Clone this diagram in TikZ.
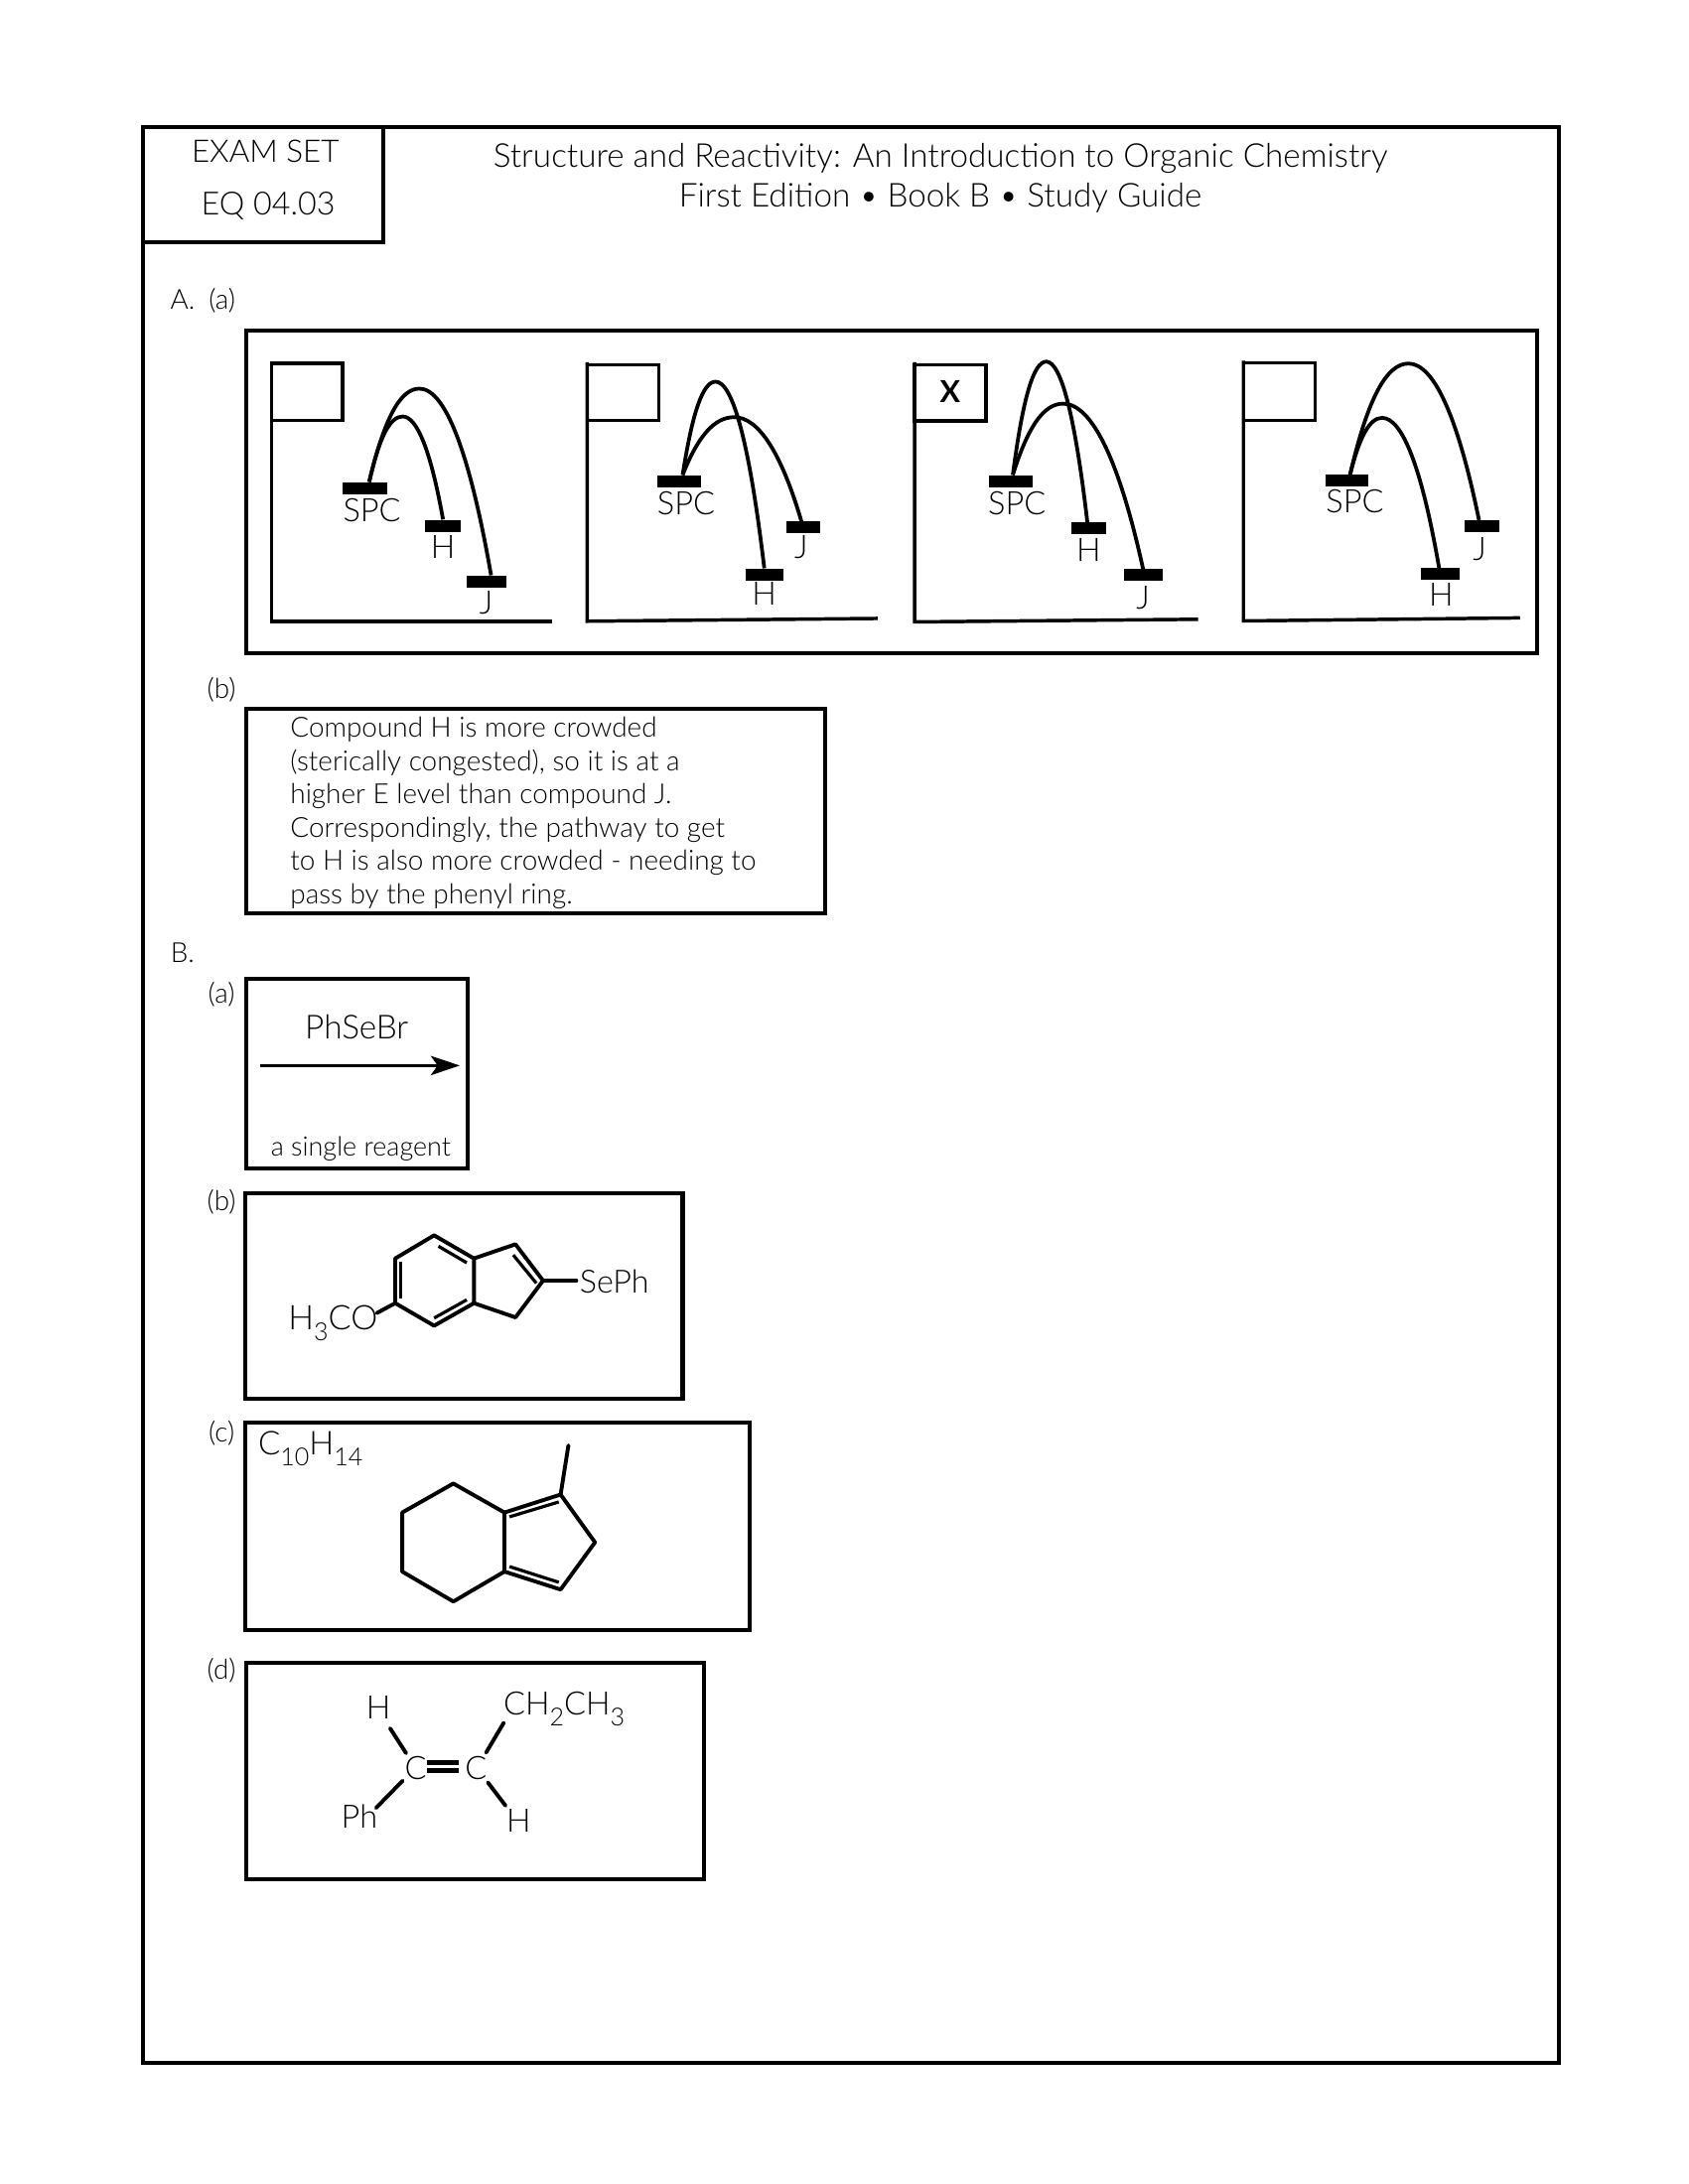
\documentclass[tikz,border=0pt]{standalone}
\usepackage{fontspec}
\setmainfont{Lato}[UprightFont=* Light,BoldFont=* Bold]
\usetikzlibrary{calc,arrows.meta}
\newcommand\fsz[1]{\fontsize{#1}{#1}\selectfont}
\newcommand\sbs[2][9]{\raisebox{-0.65ex}{\fsz{#1}#2}}
% hump curve: start, peak, end (named coordinates)
\newcommand\hump[3]{\draw[curve] let \p1=(#1),\p2=(#2),\p3=(#3) in
  (#1) .. controls ({\x1+.30*(\x2-\x1)},{\y1+.68*(\y2-\y1)}) and ({\x2-.38*(\x2-\x1)},\y2) .. (#2)
  .. controls ({\x2+.36*(\x3-\x2)},\y2) and ({\x3-.30*(\x3-\x2)},{\y3+.66*(\y2-\y3)}) .. (#3);}
\tikzset{
  frame/.style={draw=black,line width=1.45pt},
  axisline/.style={draw=black,line width=1.25pt},
  curve/.style={draw=black,line width=1.35pt},
  levelbar/.style={fill=black,inner sep=0pt,minimum height=4.4pt},
  lab/.style={inner sep=0pt,font=\fsz{11.7}},
  small/.style={inner sep=0pt,font=\fsz{10}},
  titletext/.style={inner sep=0pt,font=\fsz{11.95}},
  bond/.style={draw=black,line width=1.4pt,line cap=round},
  inner bond/.style={draw=black,line width=1.15pt},
  heavy bond/.style={draw=black,line width=1.65pt},
}
\begin{document}
\begin{tikzpicture}[x=0.505pt,y=-0.505pt]
\useasboundingbox (0,0) rectangle (1211.7,1568);
\fill[white] (0,0) rectangle (1211.7,1568);
% outer frame and header
\draw[frame] (102.5,91) rectangle (1119,1481);
\draw[frame] (102.5,91) rectangle (275,174);
\node[titletext,font=\fsz{11.3}] (es) at (190.5,108.5) {EXAM SET};
\node[titletext,font=\fsz{11.6}] (eq) at (192.5,148) {EQ 04.03};
\node[titletext] (t1) at (675,114) {Structure and Reactivity: An Introduction to Organic Chemistry};
\node[titletext] (t2) at (675,142) {First Edition • Book B • Study Guide};
\node[small,anchor=west] (aa) at (122,216) {A.\enspace(a)};
% big box
\draw[frame] (177,237) rectangle (1103,469);
% panel 1
\draw[axisline] (195,260) -- (195,446) -- (396,446);
\draw[axisline] (195,261) rectangle (246,302);
\node[levelbar,minimum width=16pt] (aS) at (262,350.5) {};
\node[levelbar,minimum width=12.8pt] (aH) at (317.8,378) {};
\node[levelbar,minimum width=14.2pt] (aJ) at (349.2,417.5) {};
\coordinate (a0) at (265,346); \coordinate (ap1) at (301,279); \coordinate (ae1) at (352.5,413);
\coordinate (ap2) at (289,299); \coordinate (ae2) at (318,373);
\hump{a0}{ap1}{ae1}\hump{a0}{ap2}{ae2}
\node[lab] (aSl) at (267,366) {SPC};
\node[lab] (aHl) at (318,393) {H};
\node[lab] (aJl) at (349,433) {J};
% panel 2
\draw[axisline] (421.5,260) -- (421.5,446) -- (630,444);
\draw[axisline] (421.5,262) rectangle (473,302);
\node[levelbar,minimum width=15.7pt] (bS) at (487.7,345.5) {};
\node[levelbar,minimum width=13.7pt] (bH) at (548.7,412.5) {};
\node[levelbar,minimum width=12.2pt] (bJ) at (576.8,378.5) {};
\coordinate (b0) at (490,341); \coordinate (bp1) at (513.6,274); \coordinate (be1) at (548.6,408);
\coordinate (bp2) at (527,299.5); \coordinate (be2) at (575.3,374.5);
\hump{b0}{bp1}{be1}\hump{b0}{bp2}{be2}
\node[lab] (bSl) at (492.5,361) {SPC};
\node[lab] (bJl) at (575,393) {J};
\node[lab] (bHl) at (548.6,426) {H};
% panel 3
\draw[axisline] (656.5,260) -- (656.5,446.5) -- (860,444.6);
\draw[axisline] (656.5,262) rectangle (707.7,302.3);
\node[inner sep=0pt,font=\fsz{11}\bfseries] (x) at (682,281) {X};
\node[levelbar,minimum width=16pt] (cS) at (725.5,345.8) {};
\node[levelbar,minimum width=12.5pt] (cH) at (781.5,379) {};
\node[levelbar,minimum width=14pt] (cJ) at (820.5,412.6) {};
\coordinate (c0) at (727,341); \coordinate (cp1) at (751,259.6); \coordinate (ce1) at (780.5,375);
\coordinate (cp2) at (763,289.8); \coordinate (ce2) at (820.5,408.5);
\hump{c0}{cp1}{ce1}\hump{c0}{cp2}{ce2}
\node[lab] (cSl) at (730,361) {SPC};
\node[lab] (cHl) at (781.5,394.5) {H};
\node[lab] (cJl) at (820.5,429) {J};
% panel 4
\draw[axisline] (892.5,259) -- (892.5,445.8) -- (1091,443.6);
\draw[axisline] (892.5,260.5) rectangle (944,302);
\node[levelbar,minimum width=15.6pt] (dS) at (966.8,344.8) {};
\node[levelbar,minimum width=14pt] (dH) at (1034,412) {};
\node[levelbar,minimum width=12.5pt] (dJ) at (1063.5,377.5) {};
\coordinate (d0) at (969,341); \coordinate (dp1) at (1011,261); \coordinate (de1) at (1061.6,373.4);
\coordinate (dp2) at (992,300); \coordinate (de2) at (1033,408);
\hump{d0}{dp1}{de1}\hump{d0}{dp2}{de2}
\node[lab] (dSl) at (972.5,360) {SPC};
\node[lab] (dHl) at (1034.5,427) {H};
\node[lab] (dJl) at (1062,394) {J};
% A(b)
\node[small] (ab) at (159,495.5) {(b)};
\draw[frame] (177,509) rectangle (592,656);
\node[anchor=north west,align=left,inner sep=0pt,font=\fontsize{10.05}{12.05}\selectfont] (abt) at (208,514.5)
 {Compound H is more crowded\\(sterically congested), so it is at a\\higher E level than compound J.\\Correspondingly, the pathway to get\\to H is also more crowded - needing to\\pass by the phenyl ring.};
% B
\node[small] (bb) at (131,684) {B.};
\node[small] (ba) at (159,714) {(a)};
\draw[frame] (177,703) rectangle (336,839);
\node[lab,font=\fsz{12}] (ph) at (256,737) {PhSeBr};
\coordinate (ar1) at (187,765); \coordinate (ar2) at (330,765);
\draw[line width=1.15pt,-{Stealth[length=10.5pt,width=7pt,inset=2.5pt]}] (ar1) -- (ar2);
\node[small,font=\fsz{9.7}] (sr) at (259,825) {a single reagent};
% B(b)
\node[small] (bbb) at (159,863) {(b)};
\draw[frame] (176,857) rectangle (490,1004);
\coordinate (h1) at (311.6,886.9); \coordinate (h2) at (340.2,903.5); \coordinate (h3) at (340.2,935.6);
\coordinate (h4) at (311.6,951.8); \coordinate (h5) at (283.7,935.6); \coordinate (h6) at (283.7,903.5);
\coordinate (p1) at (370,893.3); \coordinate (p2) at (389.8,919.4); \coordinate (p3) at (370,945.8);
\coordinate (se) at (413.7,919.4); \coordinate (ob) at (270.5,942.7);
\draw[bond,line join=round] (h1)--(h2)--(h3)--(h4)--(h5)--(h6)--cycle;
\draw[bond,line join=round] (h2)--(p1)--(p2)--(p3)--(h3);
\draw[bond] (p2)--(se); \draw[bond] (h5)--(ob);
\coordinate (i1) at (314.7,894.7); \coordinate (i2) at (335,906.6);
\coordinate (i3) at (287.7,905.9); \coordinate (i4) at (287.7,932);
\coordinate (i5) at (311.6,946.3); \coordinate (i6) at (335,933.2);
\coordinate (i7) at (368.4,901); \coordinate (i8) at (385,921.3);
\draw[inner bond] (i1)--(i2); \draw[inner bond] (i3)--(i4); \draw[inner bond] (i5)--(i6); \draw[inner bond] (i7)--(i8);
\node[lab,font=\fsz{11.6}] (seph) at (441,920) {SePh};
\node[lab,font=\fsz{12.3}] (hco) at (239,950) {H\sbs{3}CO};
% B(c)
\node[small] (bc) at (159,1029) {(c)};
\draw[frame] (176,1021) rectangle (538,1170);
\node[lab,font=\fsz{11.9},anchor=west] (cf) at (185,1040) {C\sbs{10}H\sbs{14}};
\coordinate (k1) at (325.4,1065.1); \coordinate (k2) at (362.1,1085.9); \coordinate (k3) at (362.1,1128.3);
\coordinate (k4) at (325.4,1149.8); \coordinate (k5) at (288.7,1128.3); \coordinate (k6) at (288.7,1085.9);
\coordinate (q1) at (402.4,1073); \coordinate (q2) at (427.1,1107.3); \coordinate (q3) at (402.4,1141.2);
\coordinate (me) at (408,1037.7);
\draw[bond,line join=round] (k1)--(k2)--(k3)--(k4)--(k5)--(k6)--cycle;
\draw[bond,line join=round] (k2)--(q1)--(q2)--(q3)--(k3);
\draw[bond] (q1)--(me);
\coordinate (j1) at (365.7,1089); \coordinate (j2) at (401.1,1078.3);
\coordinate (j3) at (365.7,1124.7); \coordinate (j4) at (401.1,1136);
\draw[inner bond] (j1)--(j2); \draw[inner bond] (j3)--(j4);
% B(d)
\node[small] (bd) at (159,1199.5) {(d)};
\draw[frame] (177,1194) rectangle (505,1349);
\node[lab,font=\fsz{11.7}] (dh1) at (271.6,1226) {H};
\node[lab,font=\fsz{11.7},anchor=west] (det) at (361,1227) {CH\sbs{2}CH\sbs{3}};
\node[lab,font=\fsz{11.7}] (dc1) at (298.4,1269) {C};
\node[lab,font=\fsz{11.7}] (dc2) at (341.7,1269) {C};
\node[lab,font=\fsz{11.7}] (dph) at (258,1304) {Ph};
\node[lab,font=\fsz{11.7}] (dh2) at (372.3,1307) {H};
\coordinate (m1) at (280,1240.8); \coordinate (m2) at (291.5,1258.7);
\coordinate (m3) at (361.6,1236.8); \coordinate (m4) at (348.9,1258.3);
\coordinate (m5) at (289,1278.5); \coordinate (m6) at (269.9,1298);
\coordinate (m7) at (350.2,1279.7); \coordinate (m8) at (362.9,1296.4);
\draw[bond] (m1)--(m2); \draw[bond] (m3)--(m4); \draw[bond] (m5)--(m6); \draw[bond] (m7)--(m8);
\coordinate (n1) at (306.3,1265.3); \coordinate (n2) at (329.2,1265.3);
\coordinate (n3) at (306.3,1271.2); \coordinate (n4) at (329.2,1271.2);
\draw[heavy bond] (n1)--(n2); \draw[heavy bond] (n3)--(n4);
\end{tikzpicture}
\end{document}
